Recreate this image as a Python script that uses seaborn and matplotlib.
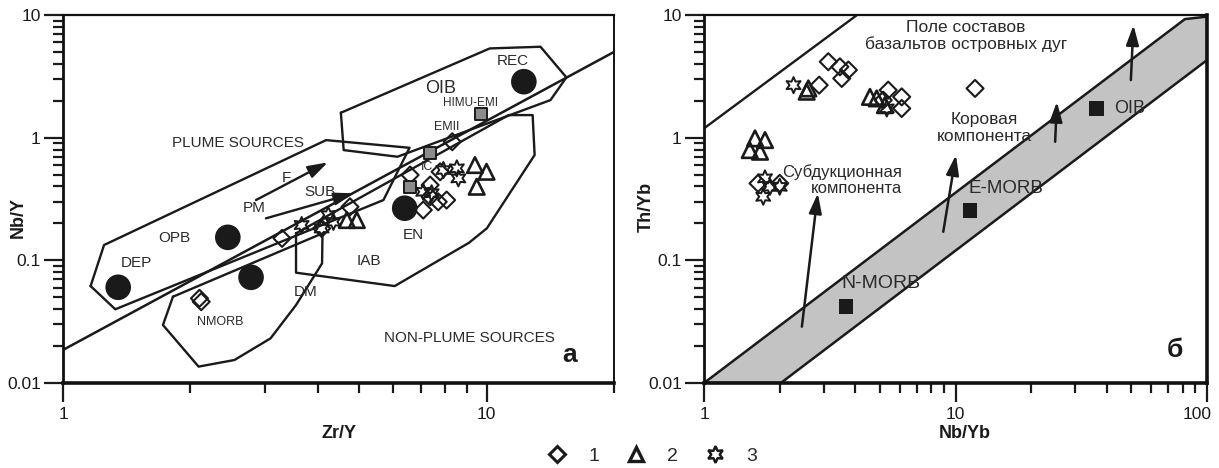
# -*- coding: utf-8 -*-
"""
Nb/Y - Zr/Y and Th/Yb - Nb/Yb discrimination diagrams (panels a and б)
"""
import numpy as np
import matplotlib.pyplot as plt
import seaborn as sns
from matplotlib.lines import Line2D
from matplotlib.patches import Polygon
from matplotlib.ticker import LogLocator, NullFormatter
from matplotlib.transforms import ScaledTranslation

# ------------------------------------------------------ #
# DATA - panel a (Zr/Y vs Nb/Y)
# ------------------------------------------------------ #
zr_y_1 = [3.29, 4.08, 4.76, 6.60, 6.31, 7.09, 7.36, 7.69, 8.05, 7.77, 8.30, 7.36, 2.10, 2.12]
nb_y_1 = [0.151, 0.182, 0.273, 0.496, 0.265, 0.257, 0.411, 0.300, 0.310, 0.527, 0.926, 0.330, 0.049, 0.046]
zr_y_2 = [4.68, 4.94, 9.39, 10.0, 9.48]
nb_y_2 = [0.213, 0.213, 0.598, 0.527, 0.398]
zr_y_3 = [3.66, 4.23, 4.08, 4.35, 7.09, 7.42, 7.91, 8.51, 8.58]
nb_y_3 = [0.194, 0.234, 0.182, 0.206, 0.362, 0.352, 0.545, 0.562, 0.466]

# mantle end-members (black circles)
src_zr_y = [1.35, 2.45, 2.78, 6.41, 12.25]
src_nb_y = [0.0603, 0.154, 0.0727, 0.266, 2.86]
# mixed sources (grey squares): HIMU-EMI, EMII, IC
mix_zr_y = [9.70, 7.35, 6.58]
mix_nb_y = [1.556, 0.745, 0.394]

# field outlines
diag_zr_y = [1.0, 20.0]
diag_nb_y = [0.0186, 5.0]
plume_zr_y = [1.162, 1.25, 4.18, 6.58, 5.71, 1.329]
plume_nb_y = [0.0617, 0.1333, 0.955, 0.827, 0.310, 0.0399]
oib_zr_y = [4.53, 10.18, 13.41, 15.44, 14.16, 6.16, 4.60]
oib_nb_y = [1.596, 5.34, 5.51, 3.10, 2.025, 0.699, 0.792]
iab_zr_y = [3.55, 3.55, 6.07, 9.09, 10.02, 12.99, 12.85, 11.28]
iab_nb_y = [0.166, 0.0793, 0.0617, 0.139, 0.1825, 0.722, 1.528, 1.528]
dm_zr_y = [1.818, 1.722, 2.09, 2.54, 3.09, 3.55, 4.09, 4.10]
dm_nb_y = [0.0505, 0.0297, 0.0136, 0.0154, 0.0231, 0.0432, 0.0945, 0.166]

# vectors F and SUB (start, end)
vec_f = [(2.855, 0.310), (4.22, 0.629)]
vec_sub = [(3.015, 0.220), (4.86, 0.352)]

# ------------------------------------------------------ #
# DATA - panel б (Nb/Yb vs Th/Yb)
# ------------------------------------------------------ #
nb_yb_1 = [3.12, 3.47, 3.75, 3.53, 2.87, 5.40, 6.11, 6.11, 5.16, 11.96, 1.64, 2.00]
th_yb_1 = [4.16, 3.78, 3.56, 3.04, 2.68, 2.44, 2.15, 1.73, 2.02, 2.52, 0.424, 0.424]
nb_yb_2 = [2.60, 2.56, 4.57, 4.86, 5.24, 1.595, 1.748, 1.52, 1.67]
th_yb_2 = [2.52, 2.37, 2.15, 2.09, 1.84, 0.987, 0.956, 0.792, 0.768]
nb_yb_3 = [2.27, 5.33, 1.748, 1.83, 1.72, 2.00]
th_yb_3 = [2.68, 1.73, 0.466, 0.398, 0.330, 0.398]

# reference basalts: N-MORB, E-MORB, OIB
ref_nb_yb = [3.67, 11.42, 36.3]
ref_th_yb = [0.0419, 0.254, 1.73]

arc_nb_yb = [1.0, 4.06]
arc_th_yb = [1.19, 10.0]
band_nb_yb = [1.0, 81.7, 100.0, 100.0, 2.02]
band_th_yb = [0.01, 9.26, 9.7, 4.29, 0.01]

vectors_b = [[(2.45, 0.0288), (2.835, 0.352)],
             [(8.94, 0.171), (10.04, 0.722)],
             [(24.9, 0.926), (25.3, 1.96)],
             [(49.8, 2.95), (51.0, 8.27)]]

# ------------------------------------------------------ #
# STYLE
# ------------------------------------------------------ #
sns.set_theme(style="ticks")
plt.rcParams['font.family'] = ['Liberation Sans', 'DejaVu Sans']
plt.rcParams['axes.edgecolor'] = '#111111'
INK = '#1a1a1a'
TXT = '#2a2a2a'
STAR6 = (6, 1, 0)


def style_axis(ax, xmax, xticks):
    ax.set_xscale('log')
    ax.set_yscale('log')
    ax.set_xlim(1, xmax)
    ax.set_ylim(0.01, 10)
    ax.set_xticks(xticks)
    ax.set_xticklabels([f'{t:g}' for t in xticks])
    ax.set_yticks([0.01, 0.1, 1, 10])
    ax.set_yticklabels(['0.01', '0.1', '1', '10'])
    for axis in (ax.xaxis, ax.yaxis):
        axis.set_minor_locator(LogLocator(base=10, subs=np.arange(2, 10), numticks=20))
        axis.set_minor_formatter(NullFormatter())
    ax.tick_params(which='major', direction='out', length=14, width=1.6,
                   labelsize=12.5, colors=INK, pad=2)
    ax.tick_params(axis='x', which='major', pad=3)
    ax.tick_params(which='minor', direction='out', length=7, width=1.6, colors=INK)
    ax.spines['bottom'].set_linewidth(2.6)
    ax.spines['left'].set_linewidth(2.0)
    ax.spines['top'].set_linewidth(1.6)
    ax.spines['right'].set_linewidth(1.4)
    ax.grid(False)


def samples(ax, x1, y1, x2, y2, x3, y3):
    sns.scatterplot(x=x1, y=y1, marker='D', s=75, facecolors='none',
                    edgecolor=INK, linewidth=1.5, ax=ax, zorder=4)
    sns.scatterplot(x=x2, y=y2, marker='^', s=125, facecolors='none',
                    edgecolor=INK, linewidth=1.9, ax=ax, zorder=4)
    sns.scatterplot(x=x3, y=y3, marker=STAR6, s=135, facecolors='none',
                    edgecolor=INK, linewidth=1.4, ax=ax, zorder=4)


fig = plt.figure(figsize=(12.19, 4.68), dpi=100)
ax1 = fig.add_axes([63 / 1219, 85 / 468, 551 / 1219, 368 / 468])
ax2 = fig.add_axes([704 / 1219, 85 / 468, 503 / 1219, 368 / 468])

# ------------------------------------------------------ #
# PANEL a
# ------------------------------------------------------ #
style_axis(ax1, 20, [1, 10])
ax1.plot(diag_zr_y, diag_nb_y, color=INK, lw=1.8, zorder=2)
for xs, ys in [(plume_zr_y, plume_nb_y), (oib_zr_y, oib_nb_y),
               (iab_zr_y, iab_nb_y), (dm_zr_y, dm_nb_y)]:
    ax1.plot(xs + xs[:1], ys + ys[:1], color=INK, lw=1.7, zorder=2)

for start, end in (vec_f, vec_sub):
    ax1.annotate('', xy=end, xytext=start,
                 arrowprops=dict(arrowstyle='-|>,head_length=1.0,head_width=0.32',
                                 color=INK, lw=1.7, shrinkA=0, shrinkB=0), zorder=3)

sns.scatterplot(x=src_zr_y, y=src_nb_y, marker='o', s=340, color=INK,
                edgecolor='none', ax=ax1, zorder=3)
sns.scatterplot(x=mix_zr_y, y=mix_nb_y, marker='s', s=80, color='#8c8c8c',
                edgecolor=INK, linewidth=1.4, ax=ax1, zorder=5)
samples(ax1, zr_y_1, nb_y_1, zr_y_2, nb_y_2, zr_y_3, nb_y_3)

labels_a = [('REC', 0.816, 0.875, 11), ('OIB', 0.686, 0.801, 13),
            ('HIMU-EMI', 0.740, 0.762, 8.5), ('EMII', 0.697, 0.696, 9),
            ('IC', 0.661, 0.587, 9), ('PLUME SOURCES', 0.3185, 0.651, 11),
            ('F', 0.405, 0.557, 11), ('SUB', 0.466, 0.520, 11),
            ('PM', 0.347, 0.4755, 11), ('OPB', 0.2015, 0.393, 11),
            ('DEP', 0.134, 0.327, 11), ('DM', 0.441, 0.248, 11),
            ('NMORB', 0.286, 0.1666, 9), ('IAB', 0.556, 0.3315, 11),
            ('EN', 0.635, 0.402, 11), ('NON-PLUME SOURCES', 0.737, 0.1215, 11)]
for txt, fx, fy, fs in labels_a:
    ax1.text(fx, fy, txt, transform=ax1.transAxes, ha='center', va='center',
             fontsize=fs, color=TXT, zorder=3)
ax1.text(0.920, 0.076, 'а', transform=ax1.transAxes, ha='center', va='center',
         fontsize=19, fontweight='bold', color=INK)

ax1.set_xlabel('Zr/Y', fontsize=13, fontweight='bold', color=INK)
ax1.set_ylabel('Nb/Y', fontsize=13, fontweight='bold', color=INK)
ax1.xaxis.set_label_coords(0.5, -0.115)
ax1.yaxis.set_label_coords(-0.066, 0.45)

# ------------------------------------------------------ #
# PANEL б
# ------------------------------------------------------ #
style_axis(ax2, 100, [1, 10, 100])
ax2.spines['right'].set_linewidth(2.6)
ax2.add_patch(Polygon(list(zip(band_nb_yb, band_th_yb)), closed=True,
                      facecolor='#c3c3c3', edgecolor=INK, lw=1.8, zorder=1))
ax2.plot(arc_nb_yb, arc_th_yb, color=INK, lw=1.7, zorder=2)

for start, end in vectors_b:
    ax2.annotate('', xy=end, xytext=start,
                 arrowprops=dict(arrowstyle='-|>,head_length=1.0,head_width=0.32',
                                 color=INK, lw=1.8, shrinkA=0, shrinkB=0), zorder=3)

sns.scatterplot(x=ref_nb_yb, y=ref_th_yb, marker='s', s=110, color=INK,
                edgecolor='none', ax=ax2, zorder=5)
samples(ax2, nb_yb_1, th_yb_1, nb_yb_2, th_yb_2, nb_yb_3, th_yb_3)

labels_b = [('Поле составов\nбазальтов островных дуг', 0.521, 0.943, 12.5, 'center'),
            ('Коровая\nкомпонента', 0.558, 0.693, 12.5, 'center'),
            ('E-MORB', 0.600, 0.529, 13.5, 'center'),
            ('N-MORB', 0.351, 0.271, 14, 'center'),
            ('OIB', 0.846, 0.746, 13, 'center')]
for txt, fx, fy, fs, al in labels_b:
    ax2.text(fx, fy, txt, transform=ax2.transAxes, ha='center', va='center',
             fontsize=fs, color=TXT, multialignment=al, linespacing=1.15, zorder=6)
ax2.text(0.394, 0.5516, 'Субдукционная\nкомпонента', transform=ax2.transAxes,
         ha='right', va='center', fontsize=12, color=TXT, multialignment='right',
         linespacing=1.15, zorder=6)
ax2.text(0.936, 0.0897, 'б', transform=ax2.transAxes, ha='center', va='center',
         fontsize=19, fontweight='bold', color=INK)

ax2.set_xlabel('Nb/Yb', fontsize=13, fontweight='bold', color=INK)
ax2.set_ylabel('Th/Yb', fontsize=13, fontweight='bold', color=INK)
ax2.xaxis.set_label_coords(0.519, -0.115)
ax2.yaxis.set_label_coords(-0.097, 0.478)

# keep the "100" label inside the figure edge
last = ax2.get_xticklabels()[-1]
last.set_transform(last.get_transform() + ScaledTranslation(-7 / 72, 0, fig.dpi_scale_trans))

# ------------------------------------------------------ #
# LEGEND
# ------------------------------------------------------ #
handles = [Line2D([], [], ls='none', marker='D', ms=8, mfc='none', mec=INK, mew=2.2),
           Line2D([], [], ls='none', marker='^', ms=10, mfc='none', mec=INK, mew=2.4),
           Line2D([], [], ls='none', marker=STAR6, ms=12, mfc='none', mec=INK, mew=1.8)]
fig.legend(handles, ['1', '2', '3'], loc='center', bbox_to_anchor=(0.535, 0.025),
           ncol=3, frameon=False, fontsize=14, handlelength=1.0, handletextpad=1.1,
           columnspacing=1.4, labelcolor=TXT)

fig.savefig('out.png', dpi=100)
